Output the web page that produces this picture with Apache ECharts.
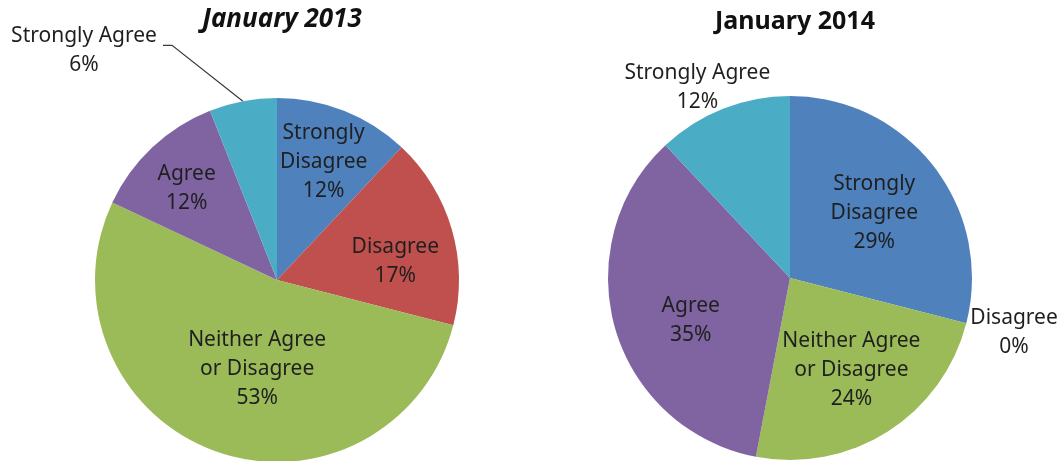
<!DOCTYPE html>
<html>
<head>
<meta charset="utf-8">
<script src="https://cdn.jsdelivr.net/npm/echarts@6/dist/echarts.min.js"></script>
<style>
  html, body { margin: 0; padding: 0; background: #fff; }
  #chart { width: 1062px; height: 461px; }
</style>
</head>
<body>
<div id="chart"></div>
<script>
// Survey responses, share of respondents (%)
const categories = ['Strongly Disagree', 'Disagree', 'Neither Agree or Disagree', 'Agree', 'Strongly Agree'];
const labelNames = ['Strongly\nDisagree', 'Disagree', 'Neither Agree\nor Disagree', 'Agree', 'Strongly Agree'];
const values2013 = [12, 17, 53, 12, 6];
const values2014 = [29, 0, 24, 35, 12];
const titles = ['January 2013', 'January 2014'];

const colors = ['#4F81BD', '#C0504D', '#9BBB59', '#8064A2', '#4BACC6'];
const FONT = '"Noto Sans", "Open Sans", sans-serif';

// label nudges (dx, dy) per series / slice
const nudges = [
  [[12, -31], [28, 8], [12, 1], [-26, -23], [-67, -41]],
  [[10, -7], [133, 31], [11, 13], [-9, 16], [-58, -103]]
];

function buildData(values) {
  return categories.map((c, i) => ({ name: c, value: values[i] }));
}

function labelFormatter(p) {
  const name = labelNames[p.dataIndex];
  const lines = name.split('\n').concat([p.value + '%']);
  return lines.map(l => '{t|' + l + '}').join('\n');
}

const textStyle = { fontFamily: FONT, fontSize: 21, lineHeight: 29, color: '#1f1f1f' };
const insideRich = { t: Object.assign({ align: 'center' }, textStyle) };
const outsideRich = { t: Object.assign({ align: 'center', width: 150 }, textStyle) };

function pieSeries(values, center, outsideIdx, seriesIdx) {
  return {
    type: 'pie',
    center: center,
    radius: 182,
    startAngle: 90,
    clockwise: true,
    avoidLabelOverlap: false,
    animation: false,
    silent: true,
    itemStyle: { borderWidth: 0 },
    label: {
      show: true,
      position: 'inside',
      formatter: labelFormatter,
      rich: insideRich
    },
    labelLine: { show: false },
    labelLayout: function (params) {
      const n = nudges[seriesIdx][params.dataIndex];
      const out = { dx: n[0], dy: n[1] };
      if (params.dataIndex === outsideIdx && params.labelLinePoints) {
        // leader line: from the slice edge to a short stub beside the moved label
        const anchor = params.labelLinePoints[0];
        const r = params.labelRect;
        const right = r.x + r.width + n[0];
        const midY = r.y + n[1] + 20;
        out.labelLinePoints = [anchor, [right + 13, midY], [right + 4, midY]];
      }
      return out;
    },
    data: buildData(values).map((d, i) => {
      if (i === outsideIdx) {
        d.label = { position: 'outside', formatter: labelFormatter, rich: outsideRich };
        d.labelLine = { show: true, length: 10, length2: 10, lineStyle: { color: '#3a3a3a', width: 1.2 } };
      }
      return d;
    })
  };
}

const chart = echarts.init(document.getElementById('chart'), null, { renderer: 'canvas' });
chart.setOption({
  backgroundColor: '#ffffff',
  color: colors,
  title: [
    {
      text: titles[0], left: 277, top: 2, textAlign: 'center',
      textStyle: { fontFamily: FONT, fontSize: 26, fontWeight: 'bold', fontStyle: 'italic', color: '#111' }
    },
    {
      text: titles[1], left: 790, top: 4, textAlign: 'center',
      textStyle: { fontFamily: FONT, fontSize: 25, fontWeight: 'bold', color: '#111' }
    }
  ],
  series: [
    pieSeries(values2013, [277, 280], 4, 0),
    pieSeries(values2014, [790, 278], -1, 1)
  ]
});
</script>
</body>
</html>
